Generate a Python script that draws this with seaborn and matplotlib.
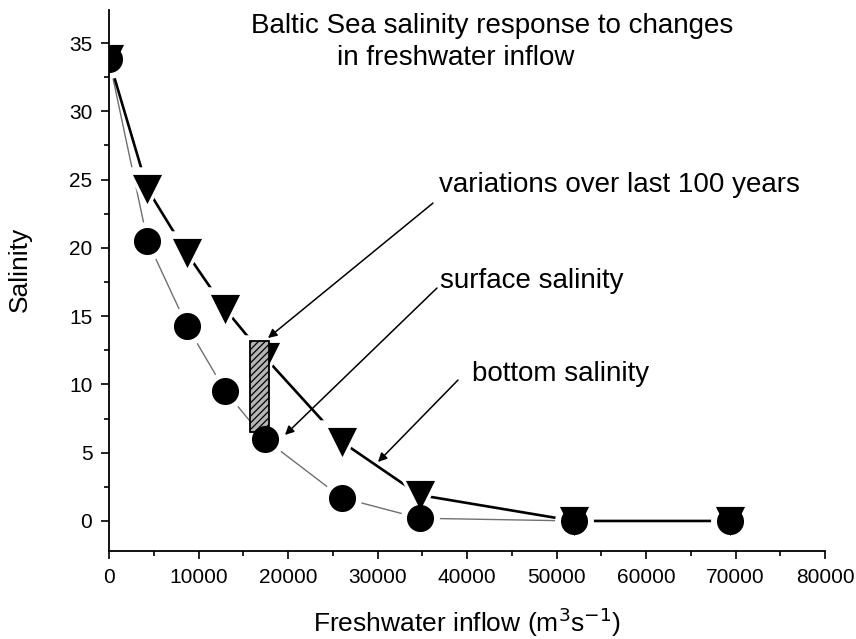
import matplotlib
matplotlib.use("Agg")
import matplotlib.pyplot as plt
from matplotlib.ticker import MultipleLocator
import numpy as np
import pandas as pd
import seaborn as sns

# Freshwater inflow (m3/s) and modelled salinity
inflow = [0, 4300, 8700, 13000, 17400, 26000, 34700, 52000, 69400]
bottom_salinity = [33.8, 24.3, 19.6, 15.5, 12.0, 5.8, 1.9, 0.0, 0.0]
surface_salinity = [33.8, 20.5, 14.3, 9.5, 6.0, 1.7, 0.2, 0.0, 0.0]

# Range of salinity seen over the last century
variation_inflow = [15800, 17900]
variation_salinity = [6.5, 13.2]

x_ticks = [0, 10000, 20000, 30000, 40000, 50000, 60000, 70000, 80000]
y_ticks = [0, 5, 10, 15, 20, 25, 30, 35]

df = pd.DataFrame({"inflow": inflow,
                   "bottom": bottom_salinity,
                   "surface": surface_salinity})

sns.set_style("ticks", {"text.color": "black", "axes.labelcolor": "black",
                        "xtick.color": "black", "ytick.color": "black",
                        "axes.edgecolor": "black"})
plt.rcParams["font.family"] = ["Liberation Sans", "DejaVu Sans"]
plt.rcParams["hatch.linewidth"] = 0.9

fig = plt.figure(figsize=(8.56, 6.39), dpi=100)
ax = fig.add_axes([109 / 856, 88 / 639, 716 / 856, 541 / 639])

# connecting lines
sns.lineplot(data=df, x="inflow", y="surface", ax=ax, sort=False,
             color="#707070", lw=1.0, zorder=2)
sns.lineplot(data=df, x="inflow", y="bottom", ax=ax, sort=False,
             color="black", lw=1.9, zorder=2)

# white halos leave a gap between the lines and the symbols
sns.scatterplot(data=df, x="inflow", y="bottom", ax=ax, marker="v",
                s=32 ** 2, color="white", linewidth=0, zorder=3)
sns.scatterplot(data=df, x="inflow", y="surface", ax=ax, marker="o",
                s=28 ** 2, color="white", linewidth=0, zorder=3)

sns.scatterplot(data=df, x="inflow", y="bottom", ax=ax, marker="v",
                s=21 ** 2, color="black", linewidth=0, zorder=4)

# hatched bar for the observed variation
ax.bar(variation_inflow[0], variation_salinity[1] - variation_salinity[0],
       width=variation_inflow[1] - variation_inflow[0],
       bottom=variation_salinity[0], align="edge",
       facecolor="#b4b4b4", edgecolor="black", hatch="/////",
       linewidth=1.3, zorder=5)

sns.scatterplot(data=df, x="inflow", y="surface", ax=ax, marker="o",
                s=19.5 ** 2, color="black", linewidth=0, zorder=6)

ax.set_xlim(0, 80000)
ax.set_ylim(-2.2, 37.42)
ax.set_xticks(x_ticks)
ax.set_yticks(y_ticks)
ax.xaxis.set_minor_locator(MultipleLocator(5000))
ax.yaxis.set_minor_locator(MultipleLocator(2.5))
ax.set_xticklabels([str(v) for v in x_ticks], fontsize=15)
ax.set_yticklabels([str(v) for v in y_ticks], fontsize=15)
ax.tick_params(which="major", direction="out", length=6, width=1.2,
               color="black", labelcolor="black", pad=6)
ax.tick_params(which="minor", direction="out", length=3.5, width=1.2,
               color="black")
for side in ("left", "bottom"):
    ax.spines[side].set_linewidth(1.3)
    ax.spines[side].set_color("black")
    ax.spines[side].set_zorder(10)
sns.despine(ax=ax)

ax.set_xlabel("Freshwater inflow (m$^3$s$^{-1}$)", fontsize=19, va="center",
              color="black")
ax.xaxis.set_label_coords(0.5, -0.131)
ax.set_ylabel("Salinity", fontsize=19, va="center", color="black")
ax.yaxis.set_label_coords(-0.124, 0.52)

fig.text(251 / 856, 1 - 26 / 639,
         "Baltic Sea salinity response to changes",
         fontsize=20, ha="left", va="center", color="black")
fig.text(337 / 856, 1 - 58 / 639, "in freshwater inflow",
         fontsize=20, ha="left", va="center", color="black")

arrow = dict(arrowstyle="-|>", color="black", lw=1.1,
             mutation_scale=13, shrinkA=0, shrinkB=0)
ax.text(36872, 24.57, "variations over last 100 years", fontsize=20,
        ha="left", va="center", color="black")
ax.annotate("", xy=(17765, 13.40), xytext=(36201, 23.28), arrowprops=arrow)
ax.text(36983, 17.61, "surface salinity", fontsize=20,
        ha="left", va="center", color="black")
ax.annotate("", xy=(19665, 6.30), xytext=(36648, 17.06), arrowprops=arrow)
ax.text(40559, 10.76, "bottom salinity", fontsize=20,
        ha="left", va="center", color="black")
ax.annotate("", xy=(30056, 4.32), xytext=(38994, 10.32), arrowprops=arrow)

fig.savefig("out.png", dpi=100)
